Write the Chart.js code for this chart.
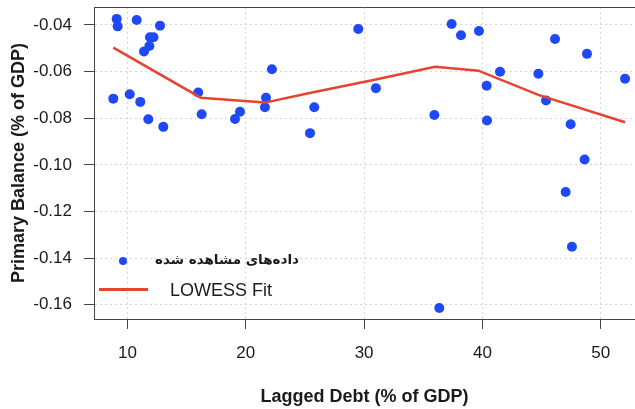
<!DOCTYPE html>
<html>
<head>
<meta charset="utf-8">
<script src="https://cdn.jsdelivr.net/npm/chart.js@4.4.0/dist/chart.umd.min.js"></script>
<style>
  body { margin: 0; background: #fff; }
  #wrap { position: relative; width: 635px; height: 409px; }
  .lg { position: absolute; white-space: nowrap; color: #1a1a1a; }
</style>
</head>
<body>
<div id="wrap">
  <canvas id="chart" width="635" height="409"></canvas>
  <!-- 凡例 -->
  <div class="lg" style="left:119px;top:257px;width:8px;height:8px;border-radius:50%;background:#1f48f7;"></div>
  <div class="lg" dir="rtl" style="left:155px;top:251px;font:bold 13.5px 'DejaVu Sans';">داده‌های مشاهده شده</div>
  <div class="lg" style="left:99px;top:288px;width:49px;height:3px;background:#e8432f;"></div>
  <div class="lg" style="left:170px;top:279px;font:18px 'Liberation Sans';line-height:22px;">LOWESS Fit</div>
</div>
<script>
// 観測データ (x: Lagged Debt, y: Primary Balance)
const debtValues = [9.09, 9.17, 10.78, 12.75, 11.9, 12.2, 11.85, 11.4, 8.8, 10.19, 11.08, 11.76, 13.03,
  15.98, 16.27, 19.09, 19.51, 21.71, 21.62, 22.21, 25.43, 25.79, 29.51, 31.0, 35.94, 37.4, 38.19,
  39.71, 41.49, 40.36, 40.39, 44.73, 45.38, 46.14, 47.46, 48.84, 52.06, 48.64, 47.04, 47.57, 36.36];
const balanceValues = [-0.0374, -0.0406, -0.0379, -0.0403, -0.0453, -0.0453, -0.049, -0.0514, -0.0716, -0.0697, -0.073, -0.0804, -0.0837,
  -0.069, -0.0783, -0.0803, -0.0772, -0.0712, -0.0753, -0.059, -0.0864, -0.0753, -0.0417, -0.0671, -0.0786, -0.0396, -0.0444,
  -0.0426, -0.0601, -0.0661, -0.081, -0.0609, -0.0724, -0.046, -0.0826, -0.0524, -0.0631, -0.0977, -0.1116, -0.1351, -0.1614];

// LOWESS 曲線
const lowessX = [8.8, 16.19, 21.62, 25.4, 30.78, 36.0, 39.66, 44.73, 52.06];
const lowessY = [-0.0497, -0.0712, -0.0733, -0.0692, -0.0636, -0.0579, -0.0596, -0.07, -0.0817];

// 目盛り
const xTicks = [10, 20, 30, 40, 50];
const yTicks = [-0.16, -0.14, -0.12, -0.10, -0.08, -0.06, -0.04];

const points = debtValues.map((x, i) => ({ x: x, y: balanceValues[i] }));
const lowessPoints = lowessX.map((x, i) => ({ x: x, y: lowessY[i] }));

const latin = "'Liberation Sans', Arial, sans-serif";

// 上側の枠線
const topBorder = {
  id: "topBorder",
  afterDraw(chart) {
    const a = chart.chartArea;
    const c = chart.ctx;
    c.save();
    c.strokeStyle = "#444";
    c.lineWidth = 1;
    c.beginPath();
    c.moveTo(a.left, a.top + 0.5);
    c.lineTo(a.right, a.top + 0.5);
    c.stroke();
    c.restore();
  },
};

const chart = new Chart(document.getElementById("chart"), {
  type: "scatter",
  data: {
    datasets: [
      {
        label: "داده‌های مشاهده شده",
        data: points,
        backgroundColor: "#1f48f7",
        borderWidth: 0,
        pointRadius: 5,
        pointHoverRadius: 5,
        order: 2,
      },
      {
        label: "LOWESS Fit",
        type: "line",
        data: lowessPoints,
        borderColor: "#e8432f",
        borderWidth: 2.5,
        pointRadius: 0,
        fill: false,
        tension: 0,
        order: 1,
      },
    ],
  },
  options: {
    responsive: false,
    animation: false,
    layout: { autoPadding: false, padding: { top: 7, right: 0, left: 0, bottom: 0 } },
    plugins: { legend: { display: false }, tooltip: { enabled: false } },
    scales: {
      x: {
        type: "linear",
        min: 7.17,
        max: 52.9,
        afterBuildTicks: (s) => { s.ticks = xTicks.map((v) => ({ value: v })); },
        afterFit: (s) => { s.height = 90; s.paddingLeft = 0; s.paddingRight = 0; },
        grid: { color: "#d6d6d6", tickColor: "#444", tickLength: 10, tickBorderDash: [] },
        border: { color: "#444", dash: [2, 3] },
        ticks: { font: { size: 17, family: latin }, color: "#1a1a1a", padding: 14, maxRotation: 0,
          callback: (v) => String(v) },
        title: { display: true, text: "Lagged Debt (% of GDP)", color: "#1a1a1a",
          font: { size: 18, weight: "bold", family: latin }, padding: { top: 0, bottom: 1 } },
      },
      y: {
        type: "linear",
        min: -0.1661,
        max: -0.0323,
        afterBuildTicks: (s) => { s.ticks = yTicks.map((v) => ({ value: v })); },
        afterFit: (s) => { s.width = 94; s.paddingTop = 0; s.paddingBottom = 0; },
        grid: { color: "#d6d6d6", tickColor: "#444", tickLength: 10, tickBorderDash: [] },
        border: { color: "#444", dash: [2, 3] },
        ticks: { font: { size: 17, family: latin }, color: "#1a1a1a", padding: 12,
          callback: (v) => v.toFixed(2) },
        title: { display: true, text: "Primary Balance (% of GDP)", color: "#1a1a1a",
          font: { size: 18, weight: "bold", family: latin }, padding: { top: 8, bottom: 0 } },
      },
    },
  },
  plugins: [topBorder],
});
</script>
</body>
</html>
